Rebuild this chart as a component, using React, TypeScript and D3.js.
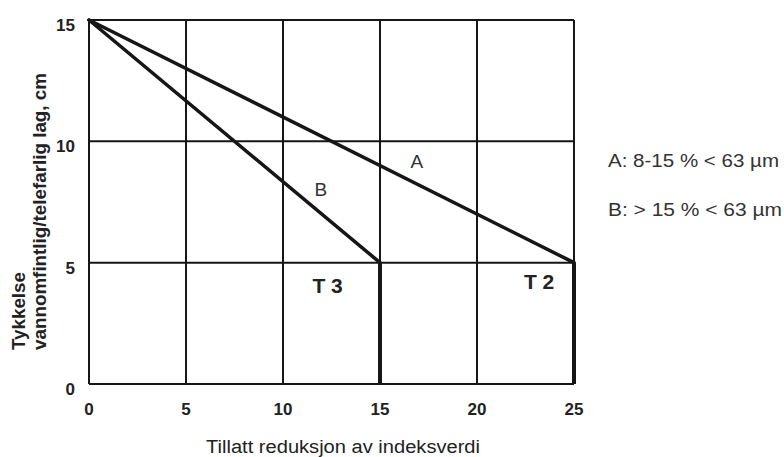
import React from "react";
import * as d3 from "d3";

const xTicks = [0, 5, 10, 15, 20, 25];
const yTicks = [0, 5, 10, 15];
const lineA = [
  { x: 0, y: 15 },
  { x: 25, y: 5 },
];
const lineB = [
  { x: 0, y: 15 },
  { x: 15, y: 5 },
];
const limitT3 = [
  { x: 15, y: 5 },
  { x: 15, y: 0 },
];
const limitT2 = [
  { x: 25, y: 5 },
  { x: 25, y: 0 },
];
const curveLabels = [
  { text: "A", x: 16.9, y: 8.9 },
  { text: "B", x: 11.95, y: 7.75 },
];
const zoneLabels = [
  { text: "T 3", x: 12.3, y: 3.75 },
  { text: "T 2", x: 23.2, y: 3.9 },
];
const legendItems = ["A: 8-15 % < 63 µm", "B: > 15 % < 63 µm"];
const xTitle = "Tillatt reduksjon av indeksverdi";
const yTitle = ["Tykkelse", "vannomfintlig/telefarlig lag, cm"];

export default function App() {
  const W = 784;
  const H = 457;
  const x = d3.scaleLinear().domain([0, 25]).range([89, 574]);
  const y = d3.scaleLinear().domain([0, 15]).range([384, 20]);
  const line = d3
    .line<{ x: number; y: number }>()
    .x((d) => x(d.x))
    .y((d) => y(d.y));
  const font = "'Liberation Sans', Arial, sans-serif";
  const ink = "#161616";
  return (
    <svg
      width={W}
      height={H}
      style={{ position: "absolute", left: 0, top: 0, background: "#fff" }}
      fontFamily={font}
    >
      <rect x={0} y={0} width={W} height={H} fill="#fff" />
      {/* grid */}
      {xTicks.map((t) => (
        <line key={"gx" + t} x1={x(t)} x2={x(t)} y1={y(0)} y2={y(15)} stroke={ink} strokeWidth={2} />
      ))}
      {yTicks.map((t) => (
        <line key={"gy" + t} x1={x(0)} x2={x(25)} y1={y(t)} y2={y(t)} stroke={ink} strokeWidth={2} />
      ))}
      {/* curves */}
      <path d={line(lineA) || ""} fill="none" stroke={ink} strokeWidth={3.5} strokeLinecap="round" />
      <path d={line(lineB) || ""} fill="none" stroke={ink} strokeWidth={3.5} strokeLinecap="round" />
      <path d={line(limitT3) || ""} fill="none" stroke={ink} strokeWidth={4} />
      <path d={line(limitT2) || ""} fill="none" stroke={ink} strokeWidth={4} />
      {/* tick labels */}
      {yTicks.map((t) => (
        <text key={"ly" + t} x={75} y={y(t) + 11} textAnchor="end" fontSize={17} fontWeight="bold" fill="#222">
          {t}
        </text>
      ))}
      {xTicks.map((t) => (
        <text key={"lx" + t} x={x(t)} y={415} textAnchor="middle" fontSize={17} fontWeight="bold" fill="#222">
          {t}
        </text>
      ))}
      {/* labels */}
      {curveLabels.map((l) => (
        <text key={l.text} x={x(l.x)} y={y(l.y)} textAnchor="middle" fontSize={19} fill="#333">
          {l.text}
        </text>
      ))}
      {zoneLabels.map((l) => (
        <text key={l.text} x={x(l.x)} y={y(l.y)} textAnchor="middle" fontSize={21} fontWeight="bold" fill="#222">
          {l.text}
        </text>
      ))}
      {legendItems.map((s, i) => (
        <text key={s} x={608} y={167 + i * 49} fontSize={19} fill="#333" textLength={i === 0 ? 171 : 174} lengthAdjust="spacingAndGlyphs">
          {s}
        </text>
      ))}
      <text x={343} y={453} textAnchor="middle" fontSize={18} fill="#222" textLength={274} lengthAdjust="spacingAndGlyphs">
        {xTitle}
      </text>
      {yTitle.map((s, i) => (
        <text
          key={s}
          transform={`translate(${25 + i * 21},350) rotate(-90)`}
          fontSize={18}
          fontWeight="bold"
          fill="#222"
          textLength={i === 0 ? 78 : 277}
          lengthAdjust="spacingAndGlyphs"
        >
          {s}
        </text>
      ))}
    </svg>
  );
}
